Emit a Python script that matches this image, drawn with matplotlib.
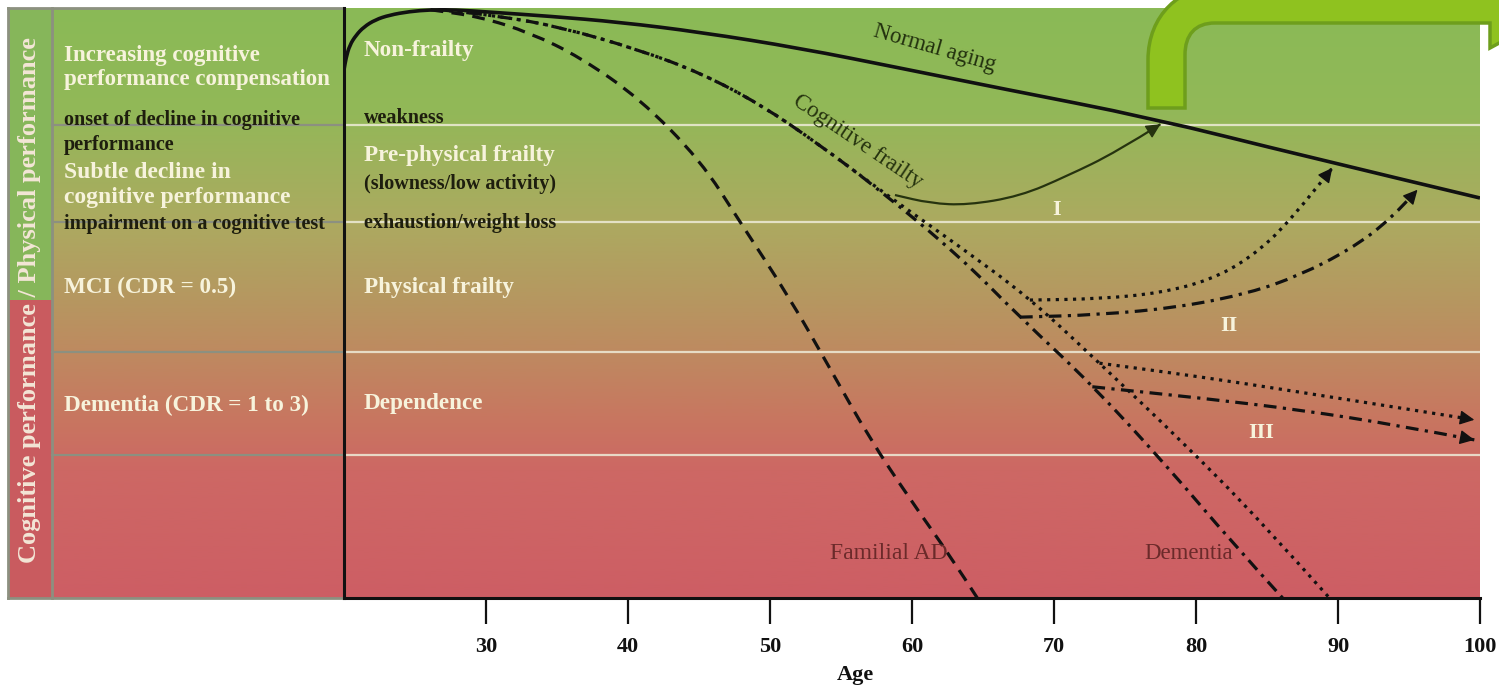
import numpy as np
import matplotlib.pyplot as plt
from matplotlib.path import Path
from matplotlib.patches import PathPatch, Rectangle

plt.rcParams['font.family'] = ['Liberation Serif', 'DejaVu Serif']

# performance scale: 0 = bottom of chart, 100 = top
normal_age = [20.0, 20.14, 20.4, 20.85, 21.4, 22.2, 23.2, 24.6, 26.1, 27.8, 30.3, 34.5, 39.4,
              45.1, 52.1, 59.2, 66.2, 76.8, 87.3, 100.0]
normal_perf = [89.5, 91.5, 93.7, 95.4, 96.8, 98.0, 98.8, 99.4, 99.7, 99.7, 99.3, 98.6, 97.6,
               95.9, 93.2, 89.8, 86.4, 81.4, 75.1, 67.8]

fad_age = [26.1, 29.6, 33.1, 36.6, 40.8, 45.1, 47.9, 51.4, 54.2, 57.0, 59.9, 62.7, 64.6]
fad_perf = [99.7, 98.5, 95.8, 91.7, 84.7, 74.2, 63.7, 50.8, 39.0, 27.1, 16.6, 7.1, 0.0]

cf_age = [26.8, 31.0, 35.2, 40.8, 45.1, 49.3, 53.5, 57.7]
cf_perf = [99.7, 98.6, 96.8, 92.9, 89.0, 83.7, 76.8, 69.2]

dot_age = [57.7, 63.4, 68.3, 73.2, 78.9, 84.5, 89.4]
dot_perf = [69.2, 59.5, 50.8, 39.8, 26.8, 13.2, 0.0]

dd_age = [57.7, 63.4, 67.6, 72.7, 78.2, 82.4, 86.1]
dd_perf = [69.2, 57.8, 47.6, 36.1, 21.7, 9.8, 0.0]

r1_age = [58.8, 61.3, 63.9, 67.6, 70.9, 74.4, 77.5]
r1_perf = [68.3, 66.9, 66.6, 68.1, 71.5, 75.6, 80.3]

r2_dot_age = [68.3, 73.2, 77.5, 81.0, 83.8, 86.6, 89.6]
r2_dot_perf = [50.5, 50.7, 51.7, 53.9, 57.6, 63.7, 72.9]
r2_dd_age = [67.6, 73.2, 78.9, 83.8, 87.3, 90.8, 93.7, 95.6]
r2_dd_perf = [47.6, 48.0, 49.3, 51.7, 54.7, 59.0, 64.1, 69.2]

r3_dot_age = [73.2, 80.3, 87.3, 94.4, 99.6]
r3_dot_perf = [39.8, 37.5, 34.9, 32.2, 30.2]
r3_dd_age = [72.7, 80.3, 87.3, 94.4, 99.6]
r3_dd_perf = [35.8, 33.9, 31.9, 29.2, 26.8]

zone_lines = [80.2, 63.7, 41.7, 24.2]
age_ticks = [30, 40, 50, 60, 70, 80, 90, 100]

white = '#f7f3dc'
dark = '#1e1e0e'
DOT = (0, (1, 1.7))
DASHDOT = (0, (4, 2, 1, 2))


def smooth_line(ax, xs, ys, **kw):
    # quadratic b-spline through the read points, drawn in data coordinates
    pts = list(zip(xs, ys))
    verts = [pts[0]]
    codes = [Path.MOVETO]
    if len(pts) > 2:
        m = ((pts[0][0] + pts[1][0]) / 2, (pts[0][1] + pts[1][1]) / 2)
        verts.append(m)
        codes.append(Path.LINETO)
        for i in range(1, len(pts) - 1):
            end = pts[i + 1] if i == len(pts) - 2 else ((pts[i][0] + pts[i + 1][0]) / 2, (pts[i][1] + pts[i + 1][1]) / 2)
            verts += [pts[i], end]
            codes += [Path.CURVE3, Path.CURVE3]
    else:
        verts.append(pts[1])
        codes.append(Path.LINETO)
    ax.add_patch(PathPatch(Path(verts, codes), fill=False, transform=ax.transData, **kw))


fig = plt.figure(figsize=(14.99, 6.91), dpi=100)

# background panel in pixel coordinates
bg = fig.add_axes([0, 0, 1, 1], zorder=0)
stops_y = [8, 110, 222, 300, 352, 420, 470, 598]
stops_c = [(138, 186, 86), (146, 184, 88), (172, 170, 96), (182, 151, 96),
           (190, 138, 96), (200, 118, 96), (205, 104, 100), (205, 94, 100)]
ys = np.linspace(8, 598, 300)
grad = np.stack([np.interp(ys, stops_y, [c[i] for c in stops_c]) for i in range(3)], axis=-1)
bg.imshow(grad[:, None, :] / 255, extent=(52, 1480, 598, 8), aspect='auto', interpolation='bilinear')
bg.add_patch(Rectangle((8, 8), 44, 292, facecolor='#86b65a', edgecolor='none'))
bg.add_patch(Rectangle((8, 300), 44, 298, facecolor='#c95b5f', edgecolor='none'))
bg.plot([8, 344], [8, 8], color='#8c9080', lw=2)
bg.plot([8, 8], [8, 598], color='#8c9080', lw=2)
bg.plot([52, 52], [8, 598], color='#8c9080', lw=2)
bg.plot([8, 344], [598, 598], color='#8c9080', lw=2)
bg.set_xlim(0, 1499)
bg.set_ylim(691, 0)
bg.axis('off')

# main chart
ax = fig.add_axes([344 / 1499, 93 / 691, 1136 / 1499, 590 / 691], zorder=1)
ax.set_facecolor('none')
ax.set_xlim(20, 100)
ax.set_ylim(0, 100)

for v in zone_lines:
    ax.axhline(v, color='#eeecd8', lw=1.6, alpha=0.85, zorder=1)
    ax.axhline(v, xmin=-292 / 1136, xmax=0, color='#8c9080', lw=1.6, clip_on=False, zorder=1)

lw = 2.3
smooth_line(ax, normal_age, normal_perf, edgecolor='#111', lw=2.6, zorder=3)
smooth_line(ax, fad_age, fad_perf, edgecolor='#111', lw=lw, linestyle=(0, (4, 2.6)), zorder=3)
smooth_line(ax, cf_age + dd_age[1:], cf_perf + dd_perf[1:], edgecolor='#111', lw=lw, linestyle=DASHDOT, zorder=3)
smooth_line(ax, cf_age + dot_age[1:], cf_perf + dot_perf[1:], edgecolor='#111', lw=lw, linestyle=DOT, zorder=3)

smooth_line(ax, r1_age, r1_perf, edgecolor='#26330f', lw=1.6, zorder=3)
smooth_line(ax, r2_dot_age, r2_dot_perf, edgecolor='#111', lw=lw, linestyle=DOT, zorder=3)
smooth_line(ax, r2_dd_age, r2_dd_perf, edgecolor='#111', lw=lw, linestyle=DASHDOT, zorder=3)
smooth_line(ax, r3_dot_age, r3_dot_perf, edgecolor='#111', lw=lw, linestyle=DOT, zorder=3)
smooth_line(ax, r3_dd_age, r3_dd_perf, edgecolor='#111', lw=lw, linestyle=DASHDOT, zorder=3)

for xa, ya, col in [(r1_age, r1_perf, '#26330f'), (r2_dot_age, r2_dot_perf, '#111'),
                    (r2_dd_age, r2_dd_perf, '#111'), (r3_dot_age, r3_dot_perf, '#111'),
                    (r3_dd_age, r3_dd_perf, '#111')]:
    x0, y0 = xa[-2] + 0.85 * (xa[-1] - xa[-2]), ya[-2] + 0.85 * (ya[-1] - ya[-2])
    ax.annotate('', xy=(xa[-1], ya[-1]), xytext=(x0, y0),
                arrowprops=dict(arrowstyle='-|>', color=col, lw=1, mutation_scale=22,
                                shrinkA=0, shrinkB=0), zorder=4)

ax.text(61.6, 93.2, 'Normal aging', rotation=-16, color='#22300e', fontsize=16.5,
        ha='center', va='center', zorder=4)
ax.text(56.2, 77.3, 'Cognitive frailty', rotation=-34, color='#26330f', fontsize=16.5,
        ha='center', va='center', zorder=4)
ax.text(58.4, 7.6, 'Familial AD', color='#6b2a2a', fontsize=17, ha='center', va='center', zorder=4)
ax.text(79.5, 7.6, 'Dementia', color='#6b2a2a', fontsize=16.5, ha='center', va='center', zorder=4)
ax.text(70.2, 65.8, 'I', color=white, fontsize=16, fontweight='bold', ha='center', va='center', zorder=4)
ax.text(82.3, 46.1, 'II', color=white, fontsize=16, fontweight='bold', ha='center', va='center', zorder=4)
ax.text(84.6, 28.0, 'III', color=white, fontsize=16, fontweight='bold', ha='center', va='center', zorder=4)

ax.set_xticks(age_ticks)
ax.set_xticklabels([str(t) for t in age_ticks], fontweight='bold')
ax.set_yticks([])
ax.tick_params(axis='x', direction='out', length=19, width=1.6, pad=9, labelsize=16, colors='#111')
for side in ['top', 'right']:
    ax.spines[side].set_visible(False)
ax.spines['left'].set_linewidth(2.2)
ax.spines['bottom'].set_linewidth(2.2)
ax.spines['left'].set_color('#111')
ax.spines['bottom'].set_color('#111')
ax.text(0.45, -0.131, 'Age', transform=ax.transAxes, fontsize=16, fontweight='bold',
        ha='center', va='center', color='#111')

# overlay: panel texts and green bent arrow
ov = fig.add_axes([0, 0, 1, 1], zorder=3)
ov.set_xlim(0, 1499)
ov.set_ylim(691, 0)
ov.axis('off')

ov.text(30, 300, 'Cognitive performance / Physical performance', rotation=90, color='#f3e6d6',
        fontsize=19, fontweight='bold', ha='center', va='center')

left_texts = [
    ('Increasing cognitive', 55, white, 16.5),
    ('performance compensation', 79, white, 16.5),
    ('onset of decline in cognitive', 120, dark, 14.5),
    ('performance', 145, dark, 14.5),
    ('Subtle decline in', 172, white, 17),
    ('cognitive performance', 197, white, 17),
    ('impairment on a cognitive test', 224, dark, 14.5),
    ('MCI (CDR = 0.5)', 287, white, 16.7),
    ('Dementia (CDR = 1 to 3)', 405, white, 16.7),
]
for s, y, c, fs in left_texts:
    ov.text(64, y, s, color=c, fontsize=fs, fontweight='bold', ha='left', va='center')

mid_texts = [
    ('Non-frailty', 50, white, 16.7),
    ('weakness', 118, dark, 14.5),
    ('Pre-physical frailty', 155, white, 16.7),
    ('(slowness/low activity)', 184, dark, 14.5),
    ('exhaustion/weight loss', 223, dark, 14.5),
    ('Physical frailty', 287, white, 16.7),
    ('Dependence', 403, white, 16.7),
]
for s, y, c, fs in mid_texts:
    ov.text(364, y, s, color=c, fontsize=fs, fontweight='bold', ha='left', va='center')

verts = [(1148, 108), (1148, 60), (1148, 15), (1180, -14), (1220, -14), (1560, -14), (1560, 10),
         (1490, 48), (1490, 23), (1215, 23), (1195, 23), (1185, 35), (1185, 55), (1185, 108), (1148, 108)]
codes = [Path.MOVETO, Path.LINETO, Path.CURVE4, Path.CURVE4, Path.CURVE4, Path.LINETO, Path.LINETO,
         Path.LINETO, Path.LINETO, Path.LINETO, Path.CURVE4, Path.CURVE4, Path.CURVE4, Path.LINETO,
         Path.CLOSEPOLY]
ov.add_patch(PathPatch(Path(verts, codes), facecolor='#8fc21f', edgecolor='#6e9e1c', lw=2.5))

fig.savefig('out.png', dpi=100)
